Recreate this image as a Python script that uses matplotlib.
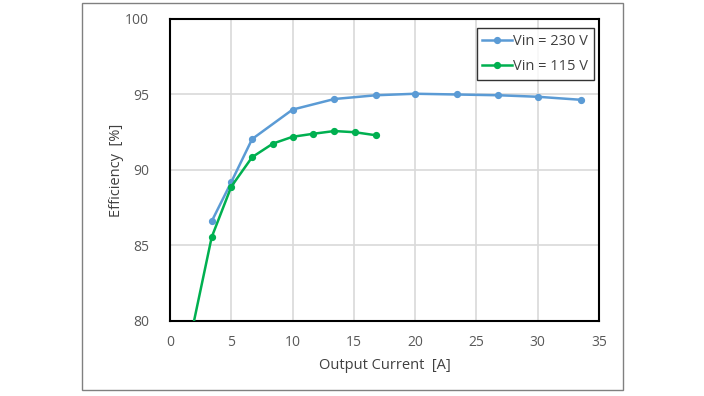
import matplotlib.pyplot as plt
from matplotlib.patches import Rectangle

# Efficiency vs output current
i_230 = [3.4, 5.0, 6.7, 10.0, 13.4, 16.8, 20.0, 23.4, 26.8, 30.0, 33.5]
eff_230 = [86.6, 89.2, 92.05, 94.0, 94.7, 94.95, 95.05, 95.0, 94.95, 94.85, 94.65]

i_115 = [1.7, 3.4, 5.0, 6.7, 8.4, 10.0, 11.7, 13.4, 15.1, 16.8]
eff_115 = [79.0, 85.55, 88.9, 90.85, 91.75, 92.2, 92.4, 92.58, 92.5, 92.3]

x_ticks = [0, 5, 10, 15, 20, 25, 30, 35]
y_ticks = [80, 85, 90, 95, 100]

plt.rcParams['font.family'] = ['Open Sans', 'DejaVu Sans']

fig = plt.figure(figsize=(7.04, 3.96), dpi=100)
ax = fig.add_axes([170 / 704, 1 - 321 / 396, 429 / 704, 302 / 396])

# outer chart frame
fig.patches.append(Rectangle((82 / 704, 1 - 390 / 396), 541 / 704, 387 / 396,
                             transform=fig.transFigure, fill=False,
                             edgecolor='#808080', linewidth=1))

ax.plot(i_230, eff_230, color='#5B9BD5', linewidth=1.8, marker='o',
        markersize=4.2, label='Vin = 230 V', zorder=3)
ax.plot(i_115, eff_115, color='#00B050', linewidth=1.8, marker='o',
        markersize=4.2, label='Vin = 115 V', zorder=3)

ax.set_xlim(0, 35)
ax.set_ylim(80, 100)
ax.set_xticks(x_ticks)
ax.set_yticks(y_ticks)
ax.grid(True, color='#d9d9d9', linewidth=1.2)
ax.set_axisbelow(True)
ax.tick_params(length=0, labelsize=10, colors='#595959')
ax.tick_params(axis='y', pad=15)
ax.tick_params(axis='x', pad=10)
for s in ax.spines.values():
    s.set_color('black')
    s.set_linewidth(1.5)

ax.set_xlabel('Output Current  [A]', fontsize=10.5, color='#404040', labelpad=6)
ax.set_ylabel('Efficiency  [%]', fontsize=10.5, color='#404040', labelpad=1)

leg = ax.legend(loc='upper right', bbox_to_anchor=(0.988, 0.97), fontsize=10.5,
                frameon=True, fancybox=False, handlelength=2.0,
                borderpad=0.4, labelspacing=0.7, handletextpad=0.1,
                borderaxespad=0)
leg.get_frame().set_edgecolor('black')
leg.get_frame().set_linewidth(1)
for t in leg.get_texts():
    t.set_color('#404040')

fig.savefig('out.png', dpi=100)
